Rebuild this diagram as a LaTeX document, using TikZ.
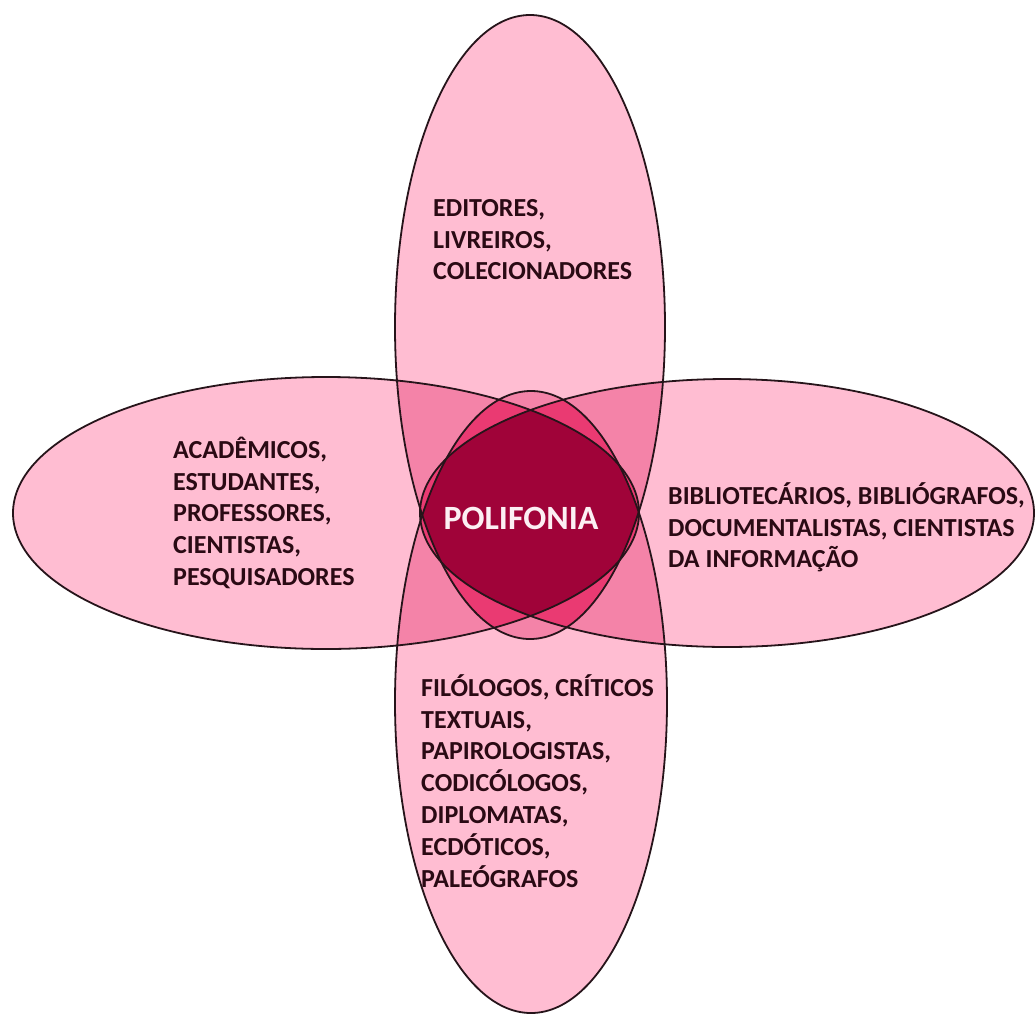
\documentclass[tikz,border=0pt]{standalone}
\usepackage{fontspec}
\setmainfont{Carlito}
\definecolor{cone}{HTML}{FFBDD2}
\definecolor{ctwo}{HTML}{F483A8}
\definecolor{cthree}{HTML}{EA3A72}
\definecolor{cfour}{HTML}{A00339}
\definecolor{edge}{HTML}{26141A}
\definecolor{txt}{HTML}{2A0A14}
\definecolor{wtxt}{HTML}{FCEFF3}
\def\ET{(530,327) ellipse [x radius=135pt, y radius=312pt]}
\def\EB{(531,702) ellipse [x radius=136pt, y radius=311pt]}
\def\EL{(326,513) ellipse [x radius=313pt, y radius=136pt]}
\def\ER{(727,513) ellipse [x radius=307pt, y radius=134pt]}
\begin{document}
\begin{tikzpicture}[x=1pt,y=-1pt,
  lab/.style={font=\fontsize{26}{31.8}\selectfont\bfseries, text=txt, align=left, inner sep=0pt, anchor=north west},
  outline/.style={draw=edge, line width=1.8pt}]
\useasboundingbox (0,0) rectangle (1036,1015);
% single layers
\fill[cone] \ET; \fill[cone] \EB; \fill[cone] \EL; \fill[cone] \ER;
% pairs
\begin{scope}\clip \ET; \fill[ctwo] \EB; \fill[ctwo] \EL; \fill[ctwo] \ER;\end{scope}
\begin{scope}\clip \EB; \fill[ctwo] \EL; \fill[ctwo] \ER;\end{scope}
\begin{scope}\clip \EL; \fill[ctwo] \ER;\end{scope}
% triples
\begin{scope}\clip \ET; \clip \EB; \fill[cthree] \EL; \fill[cthree] \ER;\end{scope}
\begin{scope}\clip \ET; \clip \EL; \fill[cthree] \ER;\end{scope}
\begin{scope}\clip \EB; \clip \EL; \fill[cthree] \ER;\end{scope}
% all four
\begin{scope}\clip \ET; \clip \EB; \clip \EL; \fill[cfour] \ER;\end{scope}
% outlines
\draw[outline] \ET; \draw[outline] \EB; \draw[outline] \EL; \draw[outline] \ER;
% labels
\node[lab] (top) at (433,191) {\rule{0pt}{25pt}EDITORES,\\LIVREIROS,\\COLECIONADORES};
\node[lab] (left) at (173,433) {\rule{0pt}{25pt}ACADÊMICOS,\\ESTUDANTES,\\PROFESSORES,\\CIENTISTAS,\\PESQUISADORES};
\node[lab] (right) at (668,479) {\rule{0pt}{25pt}BIBLIOTECÁRIOS, BIBLIÓGRAFOS,\\DOCUMENTALISTAS, CIENTISTAS\\DA INFORMAÇÃO};
\node[lab] (bottom) at (421,671) {\rule{0pt}{25pt}FILÓLOGOS, CRÍTICOS\\TEXTUAIS,\\PAPIROLOGISTAS,\\CODICÓLOGOS,\\DIPLOMATAS,\\ECDÓTICOS,\\PALEÓGRAFOS};
\node[font=\fontsize{34}{40}\selectfont\bfseries, text=wtxt, inner sep=0pt] (poli) at (521,518) {POLIFONIA};
\end{tikzpicture}
\end{document}
